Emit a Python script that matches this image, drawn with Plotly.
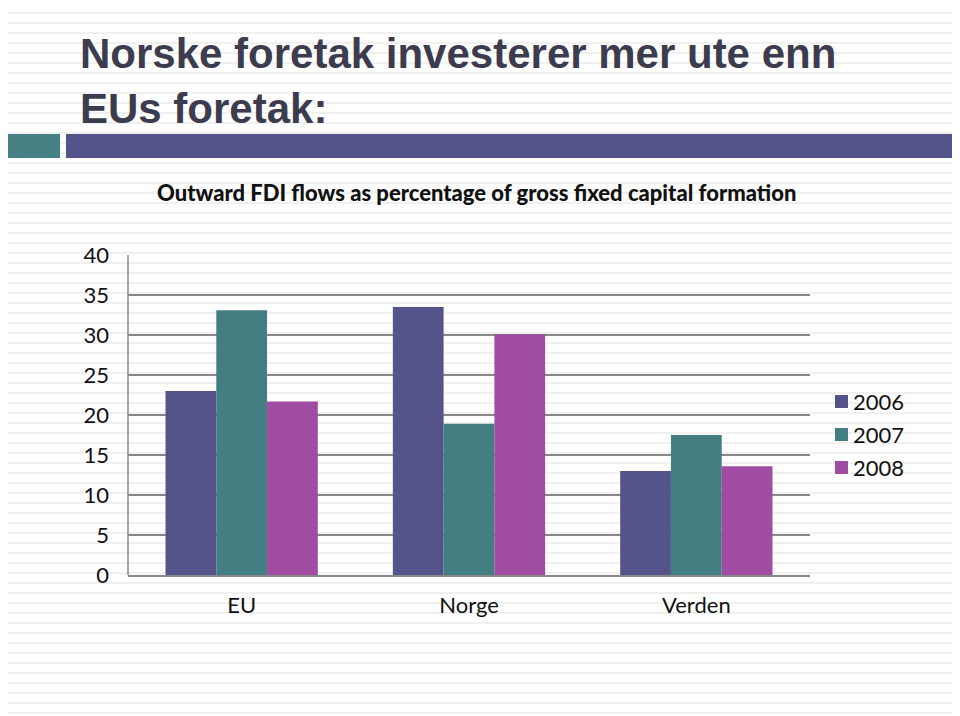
import plotly.graph_objects as go

categories = ["EU", "Norge", "Verden"]
years = ["2006", "2007", "2008"]
values_2006 = [23.0, 33.5, 13.0]
values_2007 = [33.1, 18.9, 17.5]
values_2008 = [21.7, 30.1, 13.6]
series_values = [values_2006, values_2007, values_2008]
colors = ["#54548a", "#427e82", "#a04ca2"]
y_ticks = [0, 5, 10, 15, 20, 25, 30, 35, 40]

OFF = 8  # page body margin
W, H = 960 - OFF, 716 - OFF
L, R, T, B = 128 - OFF, 810 - OFF, 255 - OFF, 575 - OFF

fig = go.Figure()
for yr, vals, col in zip(years, series_values, colors):
    fig.add_trace(go.Bar(x=categories, y=vals, name=yr, marker=dict(color=col, line=dict(width=0)),
                         showlegend=False))

def px_x(p):
    return (p - OFF - L) / (R - L)

def px_y(p):
    return (B - (p - OFF)) / (B - T)

shapes = []
# background stripes
p = 12
while p < 716:
    shapes.append(dict(type="rect", xref="paper", yref="paper", x0=px_x(0), x1=px_x(960),
                       y0=px_y(p + 2), y1=px_y(p), fillcolor="#f0f0f0", line=dict(width=0), layer="below"))
    p += 10
# decorative header bars
shapes.append(dict(type="rect", xref="paper", yref="paper", x0=px_x(5), x1=px_x(60),
                   y0=px_y(158), y1=px_y(134), fillcolor="#458183", line=dict(width=0)))
shapes.append(dict(type="rect", xref="paper", yref="paper", x0=px_x(66), x1=px_x(957),
                   y0=px_y(158), y1=px_y(134), fillcolor="#55548a", line=dict(width=0)))
# left axis line
shapes.append(dict(type="line", xref="paper", yref="paper", x0=0, x1=0, y0=0, y1=1,
                   line=dict(color="#888888", width=1.5)))

annotations = [
    dict(text="Norske foretak investerer mer ute enn<br>EUs foretak:", xref="paper", yref="paper",
         x=px_x(78), y=px_y(28), xanchor="left", yanchor="top", showarrow=False, align="left",
         font=dict(family="Liberation Sans, Arial", size=42, color="#3c3c4e", weight="bold")),
    dict(text="Outward FDI flows as percentage of gross fixed capital formation", xref="paper", yref="paper",
         x=px_x(476), y=px_y(192), xanchor="center", yanchor="middle", showarrow=False,
         font=dict(family="Lato", size=22, color="#111111", weight=900)),
]

# legend built from series names and colours
legend_y = [401, 434, 467]
for yr, col, ly in zip(years, colors, legend_y):
    shapes.append(dict(type="rect", xref="paper", yref="paper", x0=px_x(835), x1=px_x(848),
                       y0=px_y(ly + 7), y1=px_y(ly - 6), fillcolor=col, line=dict(width=0)))
    annotations.append(dict(text=yr, xref="paper", yref="paper", x=px_x(851), y=px_y(ly),
                            xanchor="left", yanchor="middle", showarrow=False,
                            font=dict(family="Lato", size=22, color="#111111")))

fig.update_layout(
    width=W, height=H,
    margin=dict(l=L, r=W - R, t=T, b=H - B),
    paper_bgcolor="white", plot_bgcolor="rgba(0,0,0,0)",
    barmode="group", bargap=0.33, bargroupgap=0,
    showlegend=False,
    shapes=shapes,
    annotations=annotations,
    font=dict(family="Lato", color="#111111"),
)
fig.update_xaxes(showgrid=False, showline=True, linecolor="#888888", linewidth=1.5,
                 tickfont=dict(family="Lato", size=22, color="#111111"), ticks="",
                 ticklabelstandoff=10)
fig.update_yaxes(range=[0, 40], tickvals=y_ticks, showgrid=True, gridcolor="#888888", gridwidth=1.5,
                 zeroline=False, tickfont=dict(family="Lato", size=22, color="#111111"),
                 ticks="", ticklabelstandoff=18)

fig.write_html("out.html")
